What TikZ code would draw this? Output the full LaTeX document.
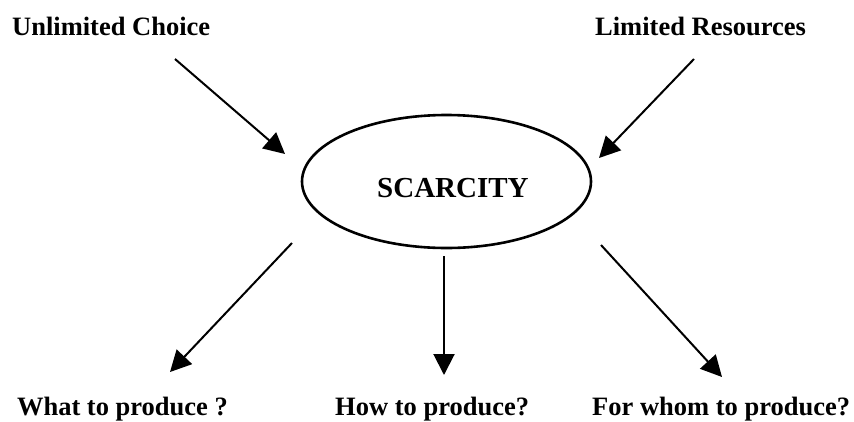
\documentclass[tikz,border=0pt]{standalone}
\usepackage{fontspec}
\setmainfont{Liberation Serif}
\usetikzlibrary{arrows.meta,shapes.geometric}
\begin{document}
\begin{tikzpicture}[x=1pt,y=-1pt,
  lbl/.style={font=\bfseries\fontsize{26.5}{30}\selectfont, inner sep=0pt},
  arr/.style={line width=2pt, -{Triangle[length=21pt,width=21pt]}}]
\useasboundingbox (0,0) rectangle (854,421);
\node[lbl, anchor=base west] (uc) at (12,35) {Unlimited Choice};
\node[lbl, anchor=base west] (lr) at (595,35) {Limited Resources};
\node[draw, ellipse, line width=2.6pt, minimum width=289pt, minimum height=133pt, inner sep=0pt] (sc) at (446.5,181.5) {};
\node[lbl, anchor=base west, font=\bfseries\fontsize{29}{32}\selectfont] (sct) at (377,197) {SCARCITY};
\node[lbl, anchor=base east] (w) at (228,415) {What to produce ?};
\node[lbl, anchor=base west] (h) at (335,415) {How to produce?};
\node[lbl, anchor=base west] (f) at (592,415) {For whom to produce?};
\coordinate (a1s) at (175,59); \coordinate (a1e) at (285,154);
\coordinate (a2s) at (694,59); \coordinate (a2e) at (599,158);
\coordinate (a3s) at (292,243); \coordinate (a3e) at (170,372);
\coordinate (a4s) at (444,256); \coordinate (a4e) at (444,375);
\coordinate (a5s) at (601,245); \coordinate (a5e) at (722,377);
\draw[arr] (a1s) -- (a1e);
\draw[arr] (a2s) -- (a2e);
\draw[arr] (a3s) -- (a3e);
\draw[arr] (a4s) -- (a4e);
\draw[arr] (a5s) -- (a5e);
\end{tikzpicture}
\end{document}
